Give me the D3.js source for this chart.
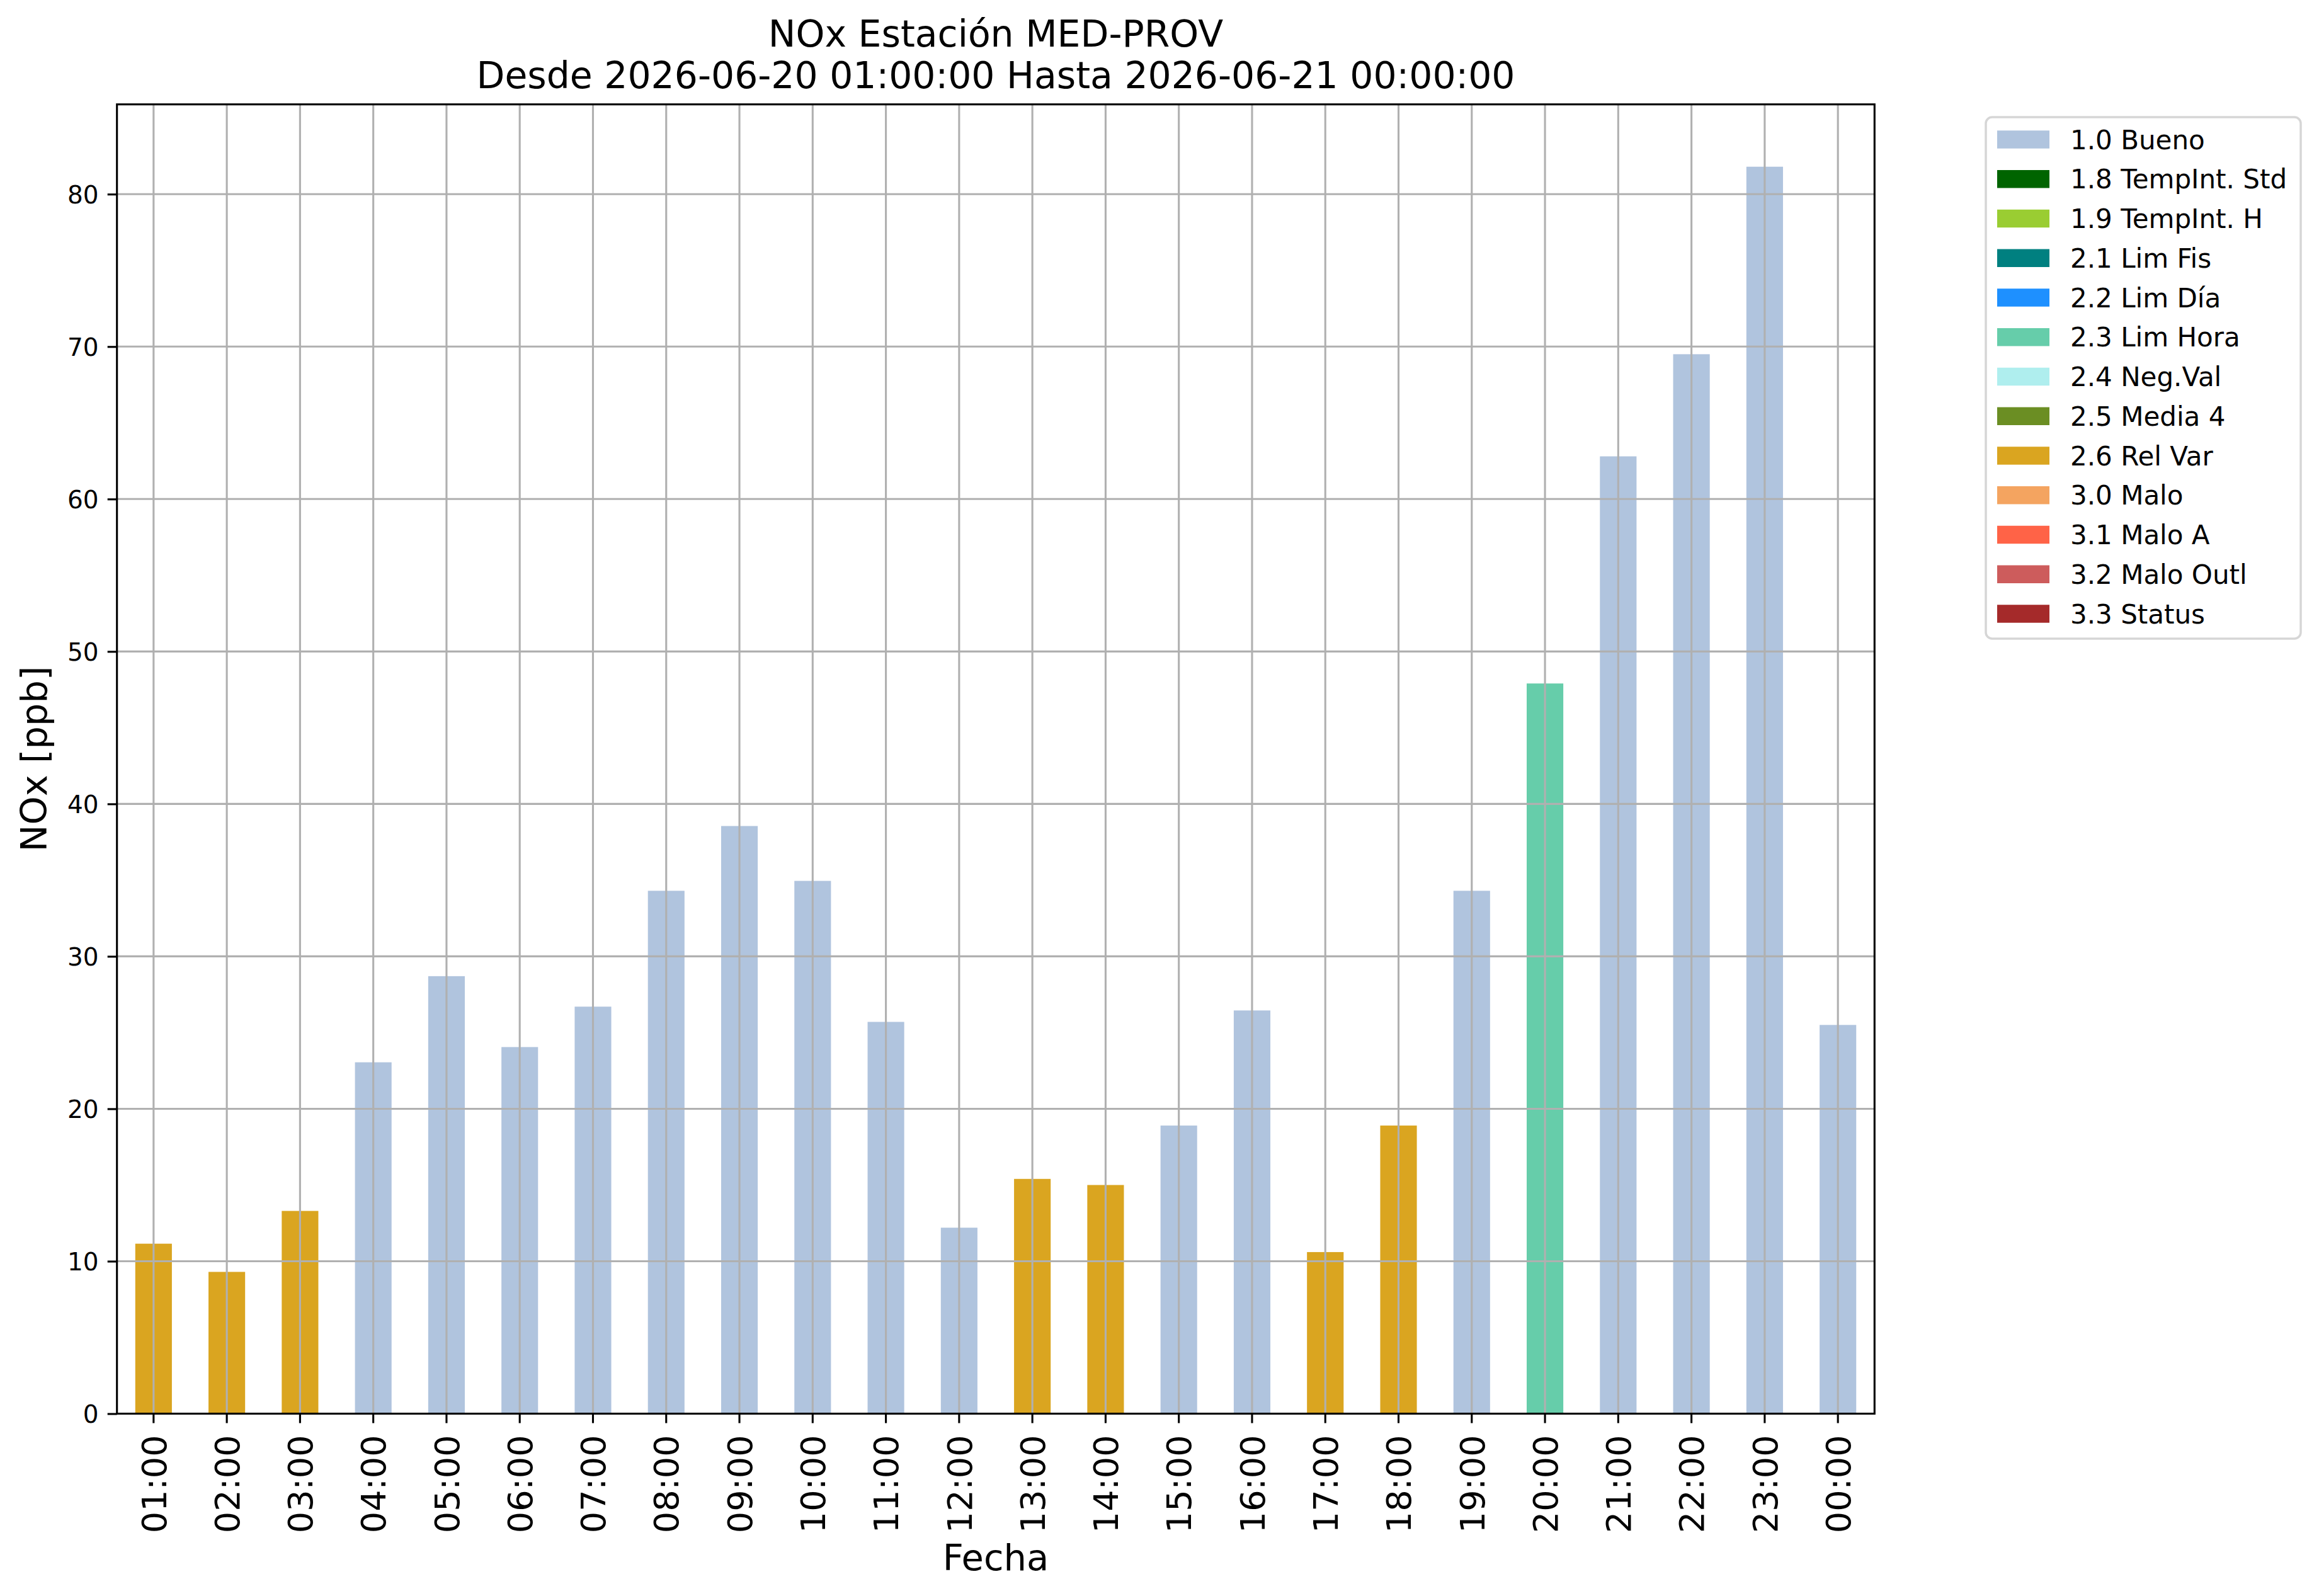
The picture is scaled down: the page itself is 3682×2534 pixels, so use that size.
<!DOCTYPE html>
<html>
<head>
<meta charset="utf-8">
<script src="https://cdn.jsdelivr.net/npm/d3@7"></script>
<style>
  body { margin: 0; background: #fff; }
  svg { display: block; font-family: "DejaVu Sans", sans-serif; }
</style>
</head>
<body>
<svg id="chart"></svg>
<script>
// Hourly NOx values (ppb)
const hours = ['01:00', '02:00', '03:00', '04:00', '05:00', '06:00', '07:00', '08:00',
    '09:00', '10:00', '11:00', '12:00', '13:00', '14:00', '15:00', '16:00',
    '17:00', '18:00', '19:00', '20:00', '21:00', '22:00', '23:00', '00:00'];
const values = [11.15, 9.3, 13.3, 23.05, 28.7, 24.05, 26.7, 34.3,
    38.55, 34.95, 25.7, 12.2, 15.4, 15.0, 18.9, 26.45,
    10.6, 18.9, 34.3, 47.9, 62.8, 69.5, 81.8, 25.5];
// quality flag of each hour
const flags = ['2.6 Rel Var', '2.6 Rel Var', '2.6 Rel Var', '1.0 Bueno', '1.0 Bueno', '1.0 Bueno', '1.0 Bueno', '1.0 Bueno',
    '1.0 Bueno', '1.0 Bueno', '1.0 Bueno', '1.0 Bueno', '2.6 Rel Var', '2.6 Rel Var', '1.0 Bueno', '1.0 Bueno',
    '2.6 Rel Var', '2.6 Rel Var', '1.0 Bueno', '2.3 Lim Hora', '1.0 Bueno', '1.0 Bueno', '1.0 Bueno', '1.0 Bueno'];

// Legend categories and their colours
const flagNames = ['1.0 Bueno', '1.8 TempInt. Std', '1.9 TempInt. H', '2.1 Lim Fis', '2.2 Lim Día',
    '2.3 Lim Hora', '2.4 Neg.Val', '2.5 Media 4', '2.6 Rel Var', '3.0 Malo',
    '3.1 Malo A', '3.2 Malo Outl', '3.3 Status'];
const flagColors = ['lightsteelblue', 'darkgreen', 'yellowgreen', 'teal', 'dodgerblue',
    'mediumaquamarine', 'paleturquoise', 'olivedrab', 'goldenrod', 'sandybrown',
    'tomato', 'indianred', 'brown'];

const yTicks = [0, 10, 20, 30, 40, 50, 60, 70, 80];
const titleLines = ['NOx Estación MED-PROV', 'Desde 2026-06-20 01:00:00 Hasta 2026-06-21 00:00:00'];

// Figure setup
const width = 3682, height = 2534;
const plot = { left: 185.7, right: 2976.3, top: 165.7, bottom: 2244.5 };
const gridColor = '#b0b0b0';
const lw = 3.1;

const svg = d3.select('#chart').attr('width', width).attr('height', height);
svg.append('rect').attr('width', width).attr('height', height).attr('fill', '#fff');

// Scales
const x = d3.scaleBand()
    .domain(hours)
    .range([plot.left, plot.right])
    .paddingInner(0.5)
    .paddingOuter(0.25);

const y = d3.scaleLinear()
    .domain([0, d3.max(values) * 1.05])
    .range([plot.bottom, plot.top]);

const color = d3.scaleOrdinal().domain(flagNames).range(flagColors);

// Bars
svg.append('g')
    .selectAll('rect')
    .data(hours)
    .join('rect')
    .attr('x', d => x(d))
    .attr('width', x.bandwidth())
    .attr('y', (d, i) => y(values[i]))
    .attr('height', (d, i) => y(0) - y(values[i]))
    .attr('fill', (d, i) => color(flags[i]));

// Grid lines (drawn above the bars, like the original)
const grid = svg.append('g').attr('stroke', gridColor).attr('stroke-width', lw);
grid.selectAll('line.v')
    .data(hours)
    .join('line')
    .attr('class', 'v')
    .attr('x1', d => x(d) + x.bandwidth() / 2)
    .attr('x2', d => x(d) + x.bandwidth() / 2)
    .attr('y1', plot.top)
    .attr('y2', plot.bottom);
grid.selectAll('line.h')
    .data(yTicks)
    .join('line')
    .attr('class', 'h')
    .attr('x1', plot.left)
    .attr('x2', plot.right)
    .attr('y1', d => y(d))
    .attr('y2', d => y(d));

// Y axis
const yAxis = svg.append('g')
    .attr('transform', `translate(${plot.left},0)`)
    .call(d3.axisLeft(y).tickValues(yTicks).tickSize(15).tickPadding(14).tickFormat(d3.format('d')));
yAxis.select('.domain').remove();
yAxis.selectAll('.tick line').attr('stroke', '#000').attr('stroke-width', lw);
yAxis.selectAll('.tick text')
    .attr('font-family', 'DejaVu Sans')
    .attr('font-size', 39)
    .attr('fill', '#000')
    .attr('dy', '0.3645em');

// X axis
const xAxis = svg.append('g')
    .attr('transform', `translate(0,${plot.bottom})`)
    .call(d3.axisBottom(x).tickSize(15).tickPadding(0));
xAxis.select('.domain').remove();
xAxis.selectAll('.tick line').attr('stroke', '#000').attr('stroke-width', lw);
xAxis.selectAll('.tick text')
    .attr('font-family', 'DejaVu Sans')
    .attr('font-size', 54)
    .attr('fill', '#000')
    .attr('text-anchor', 'end')
    .attr('y', 0)
    .attr('dy', '0.365em')
    .attr('transform', 'translate(0,34) rotate(-90)');

// Frame
svg.append('rect')
    .attr('x', plot.left)
    .attr('y', plot.top)
    .attr('width', plot.right - plot.left)
    .attr('height', plot.bottom - plot.top)
    .attr('fill', 'none')
    .attr('stroke', '#000')
    .attr('stroke-width', lw);

// Titles and axis labels
const cx = (plot.left + plot.right) / 2;
svg.append('g')
    .selectAll('text')
    .data(titleLines)
    .join('text')
    .attr('x', cx)
    .attr('y', (d, i) => 74 + i * 66)
    .attr('text-anchor', 'middle')
    .attr('font-size', 58.4)
    .text(d => d);

svg.append('text')
    .attr('x', cx)
    .attr('y', 2493)
    .attr('text-anchor', 'middle')
    .attr('font-size', 57.5)
    .text('Fecha');

svg.append('text')
    .attr('transform', `translate(74,${(plot.top + plot.bottom) / 2}) rotate(-90)`)
    .attr('text-anchor', 'middle')
    .attr('font-size', 57.5)
    .text('NOx [ppb]');

// Legend
const legend = svg.append('g');
legend.append('rect')
    .attr('x', 3153)
    .attr('y', 186)
    .attr('width', 500)
    .attr('height', 828)
    .attr('rx', 10)
    .attr('fill', '#fff')
    .attr('stroke', '#d6d6d6')
    .attr('stroke-width', 3.5);

const item = legend.selectAll('g.item')
    .data(flagNames)
    .join('g')
    .attr('class', 'item')
    .attr('transform', (d, i) => `translate(0,${221.5 + i * 62.75})`);
item.append('rect')
    .attr('x', 3171)
    .attr('y', -14.25)
    .attr('width', 83)
    .attr('height', 28.5)
    .attr('fill', d => color(d));
item.append('text')
    .attr('x', 3287)
    .attr('y', 15)
    .attr('font-size', 42)
    .text(d => d);
</script>
</body>
</html>
